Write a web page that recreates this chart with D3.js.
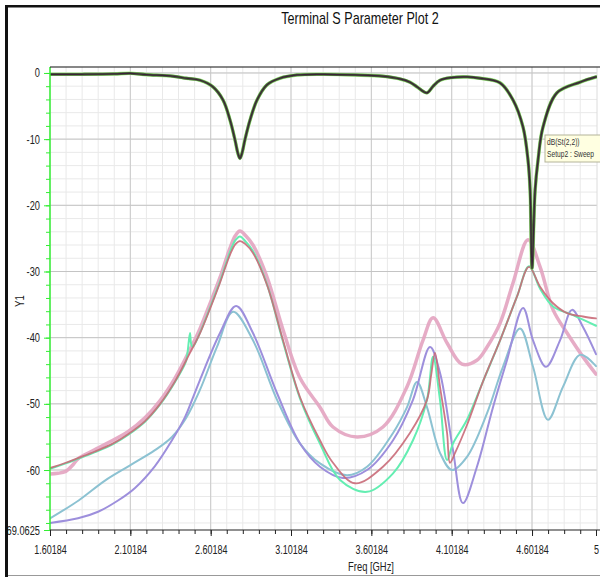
<!DOCTYPE html>
<html>
<head>
<meta charset="utf-8">
<script src="https://cdn.jsdelivr.net/npm/d3@7"></script>
<style>
	body { margin: 0; background: #fff; }
	text { font-family: "Liberation Sans", Arial, sans-serif; }
</style>
</head>
<body>
<svg id="chart" width="600" height="577"></svg>
<script>
// ---- data: [freq GHz, dB] ----
const xTickValues = [1.60184, 2.10184, 2.60184, 3.10184, 3.60184, 4.10184, 4.60184, 5];
const xTickLabels = ["1.60184", "2.10184", "2.60184", "3.10184", "3.60184", "4.10184", "4.60184", "5"];
const yTickValues = [0, -10, -20, -30, -40, -50, -60, -69.0625];
const yTickLabels = ["0", "-10", "-20", "-30", "-40", "-50", "-60", "-69.0625"];

const s22 = [
	[1.602, -0.2], [1.8, -0.2], [2.0, -0.15], [2.1, -0.05], [2.2, -0.25], [2.367, -0.5],
	[2.45, -0.8], [2.536, -1.1], [2.616, -2.1], [2.679, -4.1], [2.722, -7.1], [2.753, -10.1],
	[2.772, -12.2], [2.784, -12.9], [2.796, -12.2], [2.815, -10.1], [2.847, -7.1], [2.89, -4.1],
	[2.952, -1.8], [3.033, -0.8], [3.139, -0.3], [3.3, -0.2], [3.5, -0.3], [3.674, -0.5],
	[3.78, -0.9], [3.842, -1.4], [3.886, -2.1], [3.948, -3.0], [3.986, -2.0], [4.029, -1.1],
	[4.1, -0.7], [4.2, -0.6], [4.278, -0.8], [4.403, -1.5], [4.484, -4.1], [4.546, -8.2],
	[4.577, -13.2], [4.59, -17.7], [4.602, -29.5], [4.621, -17.7], [4.639, -13.2], [4.67, -8.2],
	[4.757, -3.0], [4.9, -1.4], [5.0, -0.6]
];

const pink = [
	[1.602, -60.6], [1.65, -60.5], [1.7, -60.2], [1.745, -59.2], [1.776, -58.3], [1.882, -56.9],
	[2.087, -54.2], [2.193, -52.1], [2.287, -49.5], [2.38, -46.1], [2.473, -41.8], [2.536, -38.6],
	[2.6, -34.7], [2.66, -30.9], [2.72, -26.6], [2.755, -24.6], [2.784, -23.9], [2.82, -24.6],
	[2.865, -26.0], [2.952, -30.8], [3.052, -38.8], [3.158, -46.1], [3.282, -50.5], [3.363, -53.5],
	[3.513, -55.0], [3.674, -53.5], [3.824, -47.4], [3.923, -40.4], [3.986, -37.0], [4.073, -40.8],
	[4.166, -44.0], [4.259, -43.4], [4.322, -41.4], [4.403, -37.8], [4.484, -31.7], [4.577, -25.2],
	[4.652, -29.3], [4.733, -35.8], [4.82, -39.3], [4.919, -42.9], [5.0, -45.5]
];

const red = [
	[1.602, -59.7], [1.7, -58.9], [1.776, -58.2], [1.882, -57.2], [2.0, -55.9], [2.087, -54.6],
	[2.193, -52.6], [2.287, -50.0], [2.38, -46.6], [2.473, -42.3], [2.536, -39.3], [2.6, -35.5],
	[2.66, -31.7], [2.72, -27.6], [2.755, -25.9], [2.784, -25.4], [2.82, -25.9], [2.865, -27.2],
	[2.952, -32.0], [3.052, -40.4], [3.158, -49.0], [3.282, -55.5], [3.363, -58.9], [3.5, -62.0],
	[3.674, -59.5], [3.842, -54.4], [3.948, -49.4], [3.975, -45.5], [3.998, -42.3], [4.029, -47.4],
	[4.073, -54.4], [4.091, -58.9], [4.123, -57.4], [4.197, -53.2], [4.297, -46.6], [4.403, -40.4],
	[4.508, -33.8], [4.583, -29.3], [4.652, -32.3], [4.733, -34.8], [4.82, -36.3], [4.919, -36.8],
	[5.0, -37.1]
];

const green = [
	[1.602, -59.8], [1.7, -59.0], [1.776, -58.3], [1.882, -57.3], [2.0, -56.0], [2.087, -54.7],
	[2.193, -52.7], [2.287, -50.1], [2.38, -46.7], [2.448, -43.6], [2.458, -42.2], [2.473, -39.3],
	[2.48, -40.9], [2.49, -41.4], [2.536, -39.2], [2.6, -35.3], [2.66, -31.5], [2.72, -27.2],
	[2.755, -25.3], [2.784, -24.7], [2.82, -25.5], [2.865, -26.9], [2.952, -31.9], [3.052, -40.6],
	[3.158, -49.2], [3.282, -56.0], [3.407, -61.5], [3.575, -63.3], [3.737, -60.5], [3.861, -55.5],
	[3.948, -49.4], [3.986, -42.9], [4.029, -49.4], [4.073, -58.5], [4.11, -56.0], [4.197, -52.4],
	[4.297, -46.6], [4.403, -40.4], [4.508, -33.8], [4.583, -29.2], [4.652, -32.6], [4.733, -35.3],
	[4.857, -36.6], [5.0, -38.2]
];

const purple = [
	[1.602, -68.0], [1.776, -67.3], [1.901, -66.3], [2.025, -64.6], [2.131, -62.7], [2.255, -59.4],
	[2.361, -55.5], [2.442, -52.0], [2.486, -49.4], [2.535, -46.4], [2.66, -39.3], [2.76, -35.2],
	[2.865, -39.3], [3.015, -48.4], [3.158, -56.0], [3.282, -59.5], [3.425, -61.2], [3.575, -60.0],
	[3.737, -55.5], [3.861, -49.4], [3.967, -41.4], [4.029, -45.3], [4.11, -57.0], [4.172, -65.0],
	[4.259, -59.5], [4.359, -50.5], [4.446, -43.4], [4.546, -35.5], [4.608, -40.4], [4.689, -44.4],
	[4.776, -40.4], [4.851, -35.8], [4.919, -38.4], [5.0, -42.5]
];

const teal = [
	[1.602, -67.3], [1.78, -64.6], [1.944, -61.6], [2.1, -59.3], [2.255, -57.0], [2.361, -55.0],
	[2.45, -52.1], [2.535, -47.9], [2.641, -41.4], [2.741, -36.1], [2.865, -40.4], [3.015, -49.4],
	[3.158, -56.0], [3.282, -59.0], [3.45, -60.8], [3.575, -59.5], [3.737, -54.4], [3.824, -50.5],
	[3.886, -46.7], [3.948, -50.5], [4.029, -57.4], [4.104, -60.0], [4.197, -58.0], [4.322, -51.4],
	[4.421, -44.4], [4.527, -38.6], [4.608, -44.4], [4.701, -52.4], [4.795, -47.4], [4.901, -42.6],
	[5.0, -44.3]
];

// ---- layout ----
const svg = d3.select("#chart");
const plot = { left: 50, right: 597, top: 67, bottom: 530 };

const x = d3.scaleLinear().domain([1.60184, 5.0]).range([plot.left, 596]);
const y = d3.scaleLinear().domain([-69.0625, 0.9]).range([plot.bottom, plot.top]);

const xMinor = d3.range(1.60184, 5.0, 0.1);
const yMinor = d3.range(0, -69, -2);

// the plot software uses a narrow face: squeeze the glyphs
function condense(sel, k) {
	sel.each(function() {
		const w = this.getComputedTextLength();
		d3.select(this).attr("textLength", w * k).attr("lengthAdjust", "spacingAndGlyphs");
	});
}

svg.append("rect").attr("width", 600).attr("height", 577).attr("fill", "#fff");

// grid
const grid = svg.append("g");
grid.selectAll(".vmin").data(xMinor).join("line")
	.attr("x1", d => x(d)).attr("x2", d => x(d))
	.attr("y1", plot.top).attr("y2", plot.bottom)
	.attr("stroke", "#e9e9e9").attr("stroke-width", 1);
grid.selectAll(".hmin").data(yMinor).join("line")
	.attr("x1", plot.left).attr("x2", plot.right)
	.attr("y1", d => y(d)).attr("y2", d => y(d))
	.attr("stroke", "#e9e9e9").attr("stroke-width", 1);
grid.selectAll(".vmaj").data(xTickValues.slice(1, -1)).join("line")
	.attr("x1", d => x(d)).attr("x2", d => x(d))
	.attr("y1", plot.top).attr("y2", plot.bottom)
	.attr("stroke", "#cacaca").attr("stroke-width", 1);
grid.selectAll(".hmaj").data(yTickValues.slice(0, -1)).join("line")
	.attr("x1", plot.left).attr("x2", plot.right)
	.attr("y1", d => y(d)).attr("y2", d => y(d))
	.attr("stroke", "#c4c4c4").attr("stroke-width", 1);
svg.append("line")
	.attr("x1", plot.right).attr("x2", plot.right).attr("y1", plot.top).attr("y2", plot.bottom)
	.attr("stroke", "#dcdcdc");

// curves
svg.append("clipPath").attr("id", "clip").append("rect")
	.attr("x", plot.left).attr("y", plot.top)
	.attr("width", plot.right - plot.left).attr("height", plot.bottom - plot.top);

const line = d3.line()
	.x(d => x(d[0]))
	.y(d => y(d[1]))
	.curve(d3.curveCatmullRom.alpha(0.5));

const curves = svg.append("g").attr("clip-path", "url(#clip)").attr("fill", "none")
	.attr("stroke-linejoin", "round").attr("stroke-linecap", "round");

const drawList = [
	{ data: pink, color: "#e3a3c0", width: 3.5, opacity: 0.9 },
	{ data: teal, color: "#8cc2d2", width: 2, opacity: 1 },
	{ data: purple, color: "#9d8fdc", width: 2, opacity: 1 },
	{ data: green, color: "#64eeb2", width: 2, opacity: 1 },
	{ data: red, color: "#c96a78", width: 1.8, opacity: 0.9 },
	{ data: s22, color: "#a6f08a", width: 3.6, opacity: 1 },
	{ data: s22, color: "#4b6a3a", width: 2.8, opacity: 1 },
	{ data: s22, color: "#3a2238", width: 1.2, opacity: 1 }
];
curves.selectAll("path").data(drawList).join("path")
	.attr("d", d => line(d.data))
	.attr("stroke", d => d.color)
	.attr("stroke-width", d => d.width)
	.attr("stroke-opacity", d => d.opacity);

// axes
const yAxis = svg.append("g").attr("transform", `translate(${plot.left},0)`)
	.call(d3.axisLeft(y).tickValues(yMinor).tickSize(4).tickFormat(""));
yAxis.append("g")
	.call(d3.axisLeft(y).tickValues(yTickValues).tickSize(6).tickPadding(4)
		.tickFormat((d, i) => yTickLabels[i]));
yAxis.selectAll(".domain").remove();
yAxis.selectAll("line").attr("stroke", "#33ee33");
yAxis.selectAll("text").attr("font-size", 12.5).attr("fill", "#222").call(condense, 0.74);
yAxis.append("line")
	.attr("x1", 0).attr("x2", 0).attr("y1", plot.top).attr("y2", plot.bottom)
	.attr("stroke", "#33ee33").attr("stroke-width", 1.5);

const xAxis = svg.append("g").attr("transform", `translate(0,${plot.bottom})`)
	.call(d3.axisBottom(x).tickValues(xMinor.concat([5])).tickSize(4).tickFormat(""));
xAxis.append("g")
	.call(d3.axisBottom(x).tickValues(xTickValues).tickSize(6).tickFormat((d, i) => xTickLabels[i]));
xAxis.selectAll(".domain").remove();
xAxis.selectAll("line").attr("stroke", "#222");
xAxis.selectAll("text").attr("font-size", 12.5).attr("fill", "#222")
	.attr("y", 24).attr("dy", 0).call(condense, 0.72);
xAxis.append("line")
	.attr("x1", plot.left).attr("x2", 600).attr("y1", 0).attr("y2", 0)
	.attr("stroke", "#222").attr("stroke-width", 1.2);

// plot top border
svg.append("line")
	.attr("x1", plot.left).attr("x2", 600).attr("y1", plot.top).attr("y2", plot.top)
	.attr("stroke", "#111").attr("stroke-width", 1.2);

// labels
svg.append("text").attr("x", 360).attr("y", 24).attr("text-anchor", "middle")
	.attr("font-size", 17).attr("fill", "#111").text("Terminal S Parameter Plot 2")
	.call(condense, 0.74);
svg.append("text").attr("x", 371).attr("y", 571).attr("text-anchor", "middle")
	.attr("font-size", 12.5).attr("fill", "#222").text("Freq [GHz]")
	.call(condense, 0.75);
svg.append("text").attr("transform", "translate(24,301) rotate(-90)").attr("text-anchor", "middle")
	.attr("font-size", 12).attr("fill", "#222").text("Y1")
	.call(condense, 0.8);

// marker tooltip
const tip = svg.append("g").attr("transform", "translate(545,135)");
tip.append("rect").attr("width", 57).attr("height", 27)
	.attr("fill", "#ffffe1").attr("stroke", "#b4b49a");
tip.append("text").attr("x", 2).attr("y", 10).attr("font-size", 9).attr("fill", "#333")
	.text("dB(St(2,2))").call(condense, 0.74);
tip.append("text").attr("x", 2).attr("y", 22).attr("font-size", 9).attr("fill", "#333")
	.text("Setup2 : Sweep").call(condense, 0.74);

// outer frame
svg.append("rect").attr("x", 0).attr("y", 0).attr("width", 5).attr("height", 577).attr("fill", "#fff");
svg.append("rect").attr("x", 5).attr("y", 5).attr("width", 3).attr("height", 572).attr("fill", "#111");
svg.append("rect").attr("x", 5).attr("y", 5).attr("width", 595).attr("height", 2.5).attr("fill", "#111");
svg.append("line").attr("x1", 8).attr("x2", 600).attr("y1", 575.5).attr("y2", 575.5)
	.attr("stroke", "#999").attr("stroke-width", 1);
</script>
</body>
</html>
